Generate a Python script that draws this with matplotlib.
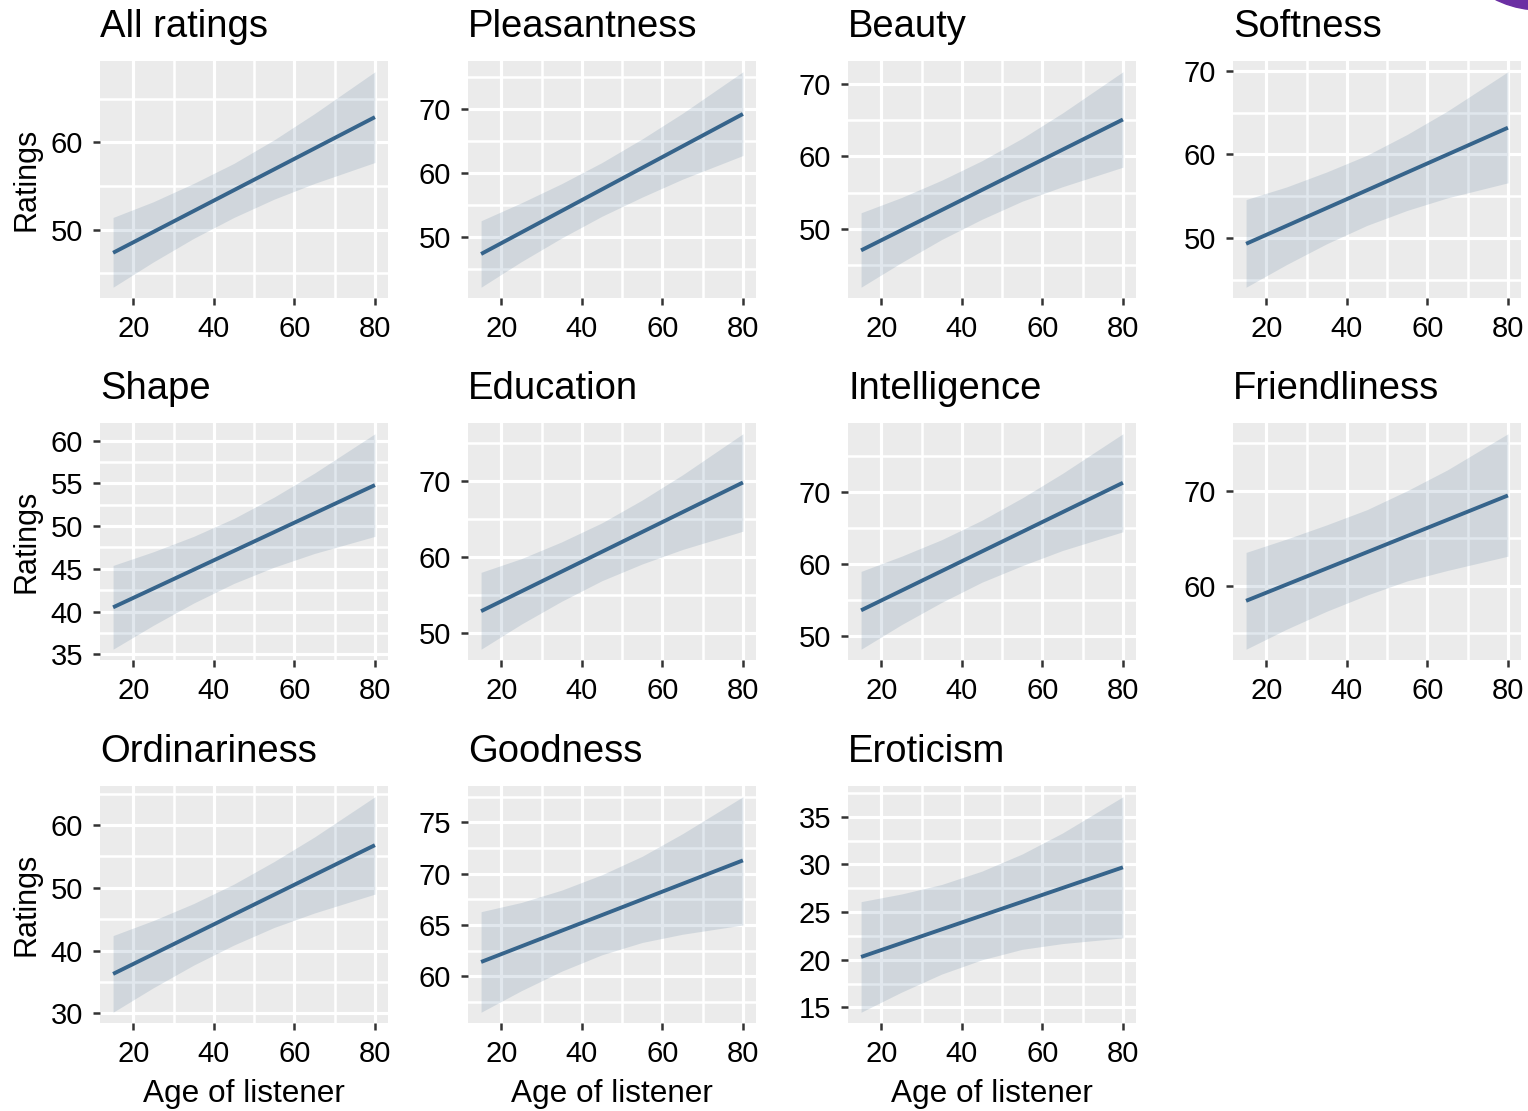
"""Rating vs listener age: linear fit with confidence band, one panel per scale."""

import matplotlib
matplotlib.use("Agg")
import matplotlib.pyplot as plt
from matplotlib.patches import Ellipse
from matplotlib.ticker import FixedLocator, MultipleLocator

plt.rcParams["font.family"] = ["Liberation Sans", "DejaVu Sans"]

# ---- data ------------------------------------------------------------------
titles = ["All ratings", "Pleasantness", "Beauty", "Softness",
          "Shape", "Education", "Intelligence", "Friendliness",
          "Ordinariness", "Goodness", "Eroticism"]

fit_x = [15, 80]
fit_15 = [47.35, 47.3, 47.0, 49.3, 40.5, 52.9, 53.6, 58.4, 36.3, 61.4, 20.3]
fit_80 = [62.9, 69.2, 65.1, 63.2, 54.8, 69.8, 71.3, 69.5, 56.8, 71.3, 29.7]

band_x = [15, 25, 35, 45, 55, 65, 80]
upper = [
    [51.4, 53.2, 55.3, 57.6, 60.3, 63.3, 68.1],
    [52.5, 55.3, 58.3, 61.6, 65.3, 69.3, 75.8],
    [52.2, 54.3, 56.7, 59.4, 62.5, 66.0, 71.7],
    [54.6, 56.1, 57.9, 59.9, 62.4, 65.2, 69.9],
    [45.4, 47.0, 48.8, 50.9, 53.4, 56.2, 60.8],
    [58.0, 59.8, 62.0, 64.5, 67.5, 70.8, 76.2],
    [59.0, 61.1, 63.4, 66.1, 69.2, 72.6, 78.1],
    [63.5, 64.9, 66.4, 68.0, 70.0, 72.2, 76.0],
    [42.4, 44.8, 47.5, 50.6, 54.2, 58.1, 64.5],
    [66.3, 67.2, 68.4, 69.9, 71.7, 73.9, 77.5],
    [26.1, 26.9, 27.9, 29.3, 31.1, 33.3, 37.1],
]
lower = [
    [43.4, 46.3, 49.0, 51.4, 53.5, 55.3, 57.7],
    [42.1, 46.1, 49.8, 53.2, 56.2, 59.0, 62.7],
    [41.9, 45.3, 48.5, 51.3, 53.8, 55.8, 58.5],
    [44.1, 46.8, 49.3, 51.5, 53.3, 54.8, 56.6],
    [35.6, 38.4, 41.0, 43.3, 45.2, 46.8, 48.8],
    [47.9, 51.2, 54.2, 56.9, 59.1, 61.0, 63.4],
    [48.2, 51.6, 54.7, 57.5, 59.8, 61.9, 64.5],
    [53.3, 55.4, 57.3, 59.0, 60.5, 61.6, 63.1],
    [30.2, 34.1, 37.7, 40.9, 43.7, 46.0, 49.0],
    [56.5, 58.6, 60.5, 62.1, 63.3, 64.1, 65.0],
    [14.5, 16.6, 18.5, 20.0, 21.1, 21.7, 22.3],
]

x_breaks = [20, 40, 60, 80]
y_breaks = [
    [50, 60], [50, 60, 70], [50, 60, 70], [50, 60, 70],
    [35, 40, 45, 50, 55, 60], [50, 60, 70], [50, 60, 70], [60, 70],
    [30, 40, 50, 60], [60, 65, 70, 75], [15, 20, 25, 30, 35],
]

# ---- layout ------------------------------------------------------------------
W, H = 1528, 1111
col_left = [100, 468, 848, 1233]
row_top = [61, 423, 786]
pw, ph = 288, 237

LINE = "#36648B"
PANEL = "#EBEBEB"

fig = plt.figure(figsize=(W / 100, H / 100), dpi=100)

for i, title in enumerate(titles):
    r, c = divmod(i, 4)
    left, top = col_left[c], row_top[r]
    ax = fig.add_axes([left / W, 1 - (top + ph) / H, pw / W, ph / H])
    ax.set_facecolor(PANEL)
    for s in ax.spines.values():
        s.set_visible(False)

    ax.fill_between(band_x, lower[i], upper[i], color=LINE, alpha=0.15,
                    linewidth=0, zorder=2)
    ax.plot(fit_x, [fit_15[i], fit_80[i]], color=LINE, lw=2.8,
            solid_capstyle="butt", zorder=3)

    ax.set_xlim(11.75, 83.25)
    ax.margins(y=0.05)
    ax.xaxis.set_major_locator(FixedLocator(x_breaks))
    ax.xaxis.set_minor_locator(MultipleLocator(10))
    yb = y_breaks[i]
    ax.yaxis.set_major_locator(FixedLocator(yb))
    ax.yaxis.set_minor_locator(MultipleLocator((yb[1] - yb[0]) / 2))

    ax.set_axisbelow(True)
    ax.grid(which="major", color="white", lw=2.3)
    ax.grid(which="minor", color="white", lw=1.8)
    ax.tick_params(which="major", length=4.8, width=1.8, color="#333333",
                   labelsize=21, labelcolor="black", pad=7.5)
    ax.tick_params(which="minor", length=0)

    ax.set_title(title, loc="left", fontsize=27.5, pad=17)

    if c == 0:
        fig.text(26 / W, 1 - (top + ph / 2) / H, "Ratings", rotation=90,
                 ha="center", va="center", fontsize=22)
    if r == 2:
        fig.text((left + pw / 2) / W, 1 - 1102 / H, "Age of listener",
                 ha="center", va="baseline", fontsize=22.7)

# purple badge peeking in at the top-right corner
fig.patches.append(Ellipse((1540 / W, 1 + 90 / H), 200 / W, 200 / H,
                           transform=fig.transFigure, color="#6b2fa3",
                           zorder=10))

fig.savefig("out.png", dpi=100)
